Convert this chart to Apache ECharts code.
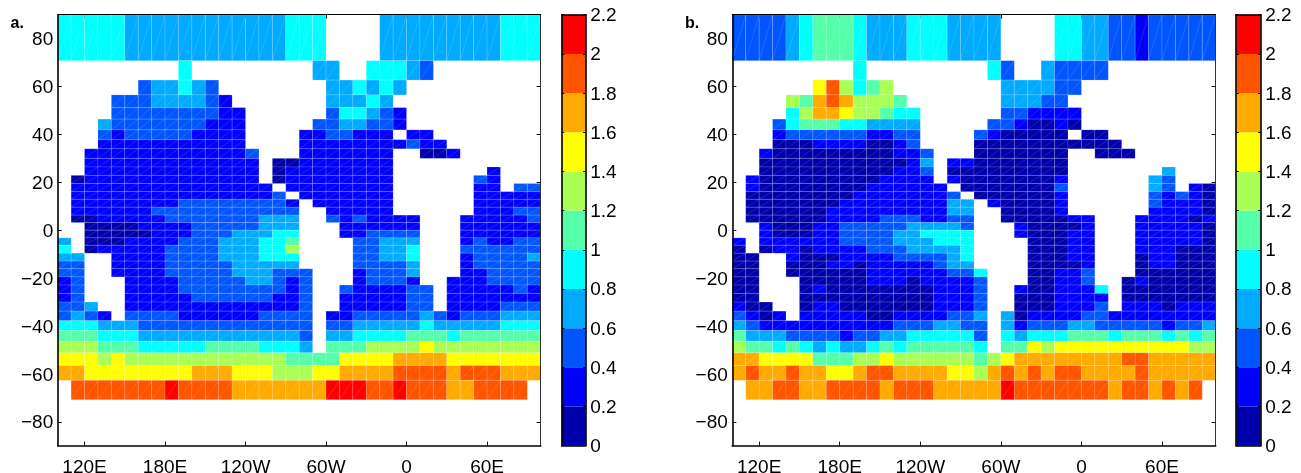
<!DOCTYPE html>
<html>
<head>
<meta charset="utf-8">
<style>html,body{margin:0;padding:0;background:#fff}#c{width:1301px;height:473px}</style>
<script src="https://cdn.jsdelivr.net/npm/echarts@6/dist/echarts.min.js"></script>
</head>
<body>
<div id="c"></div>
<script>
// Cell edges: 36 longitude columns of 10 degrees from 100E, 36 latitude rows top to bottom
const lonStart = 100;
const lonStep = 10;
const latEdgesNorth = [90, 70.8, 62.7, 56.5, 51.2, 46.4, 41.9, 37.8, 34, 30, 26.4, 22.9, 19.5, 16.1, 12.9, 9.6, 6.3, 3.2, 0];
const latEdgesSouth = [-3.2, -6.3, -9.6, -12.9, -16.1, -19.5, -22.9, -26.4, -30, -33.8, -37.8, -41.9, -46.4, -51.2, -56.5, -62.7, -70.8, -90];

// Colour classes: lower bound of each class, and its colour
const classEdges = [0, 0.2, 0.4, 0.6, 0.8, 1, 1.2, 1.4, 1.6, 1.8, 2, 2.2];
const classColors = ['#0000aa', '#0000ff', '#0055ff', '#00aaff', '#00ffff', '#55ffaa', '#aaff55', '#ffff00', '#ffaa00', '#ff5500', '#ff0000'];

// Ticks and labels
const lonTicks = [120, 180, 240, 300, 360, 420];
const lonLabels = ['120E', '180E', '120W', '60W', '0', '60E'];
const latTicks = [-80, -60, -40, -20, 0, 20, 40, 60, 80];
const latLabels = ['\u221280', '\u221260', '\u221240', '\u221220', '0', '20', '40', '60', '80'];
const barTicks = [0, 0.2, 0.4, 0.6, 0.8, 1, 1.2, 1.4, 1.6, 1.8, 2, 2.2];
const barLabels = ['0', '0.2', '0.4', '0.6', '0.8', '1', '1.2', '1.4', '1.6', '1.8', '2', '2.2'];

// Class read from each cell ('.' = no data, a = class 10), one string per latitude row
const panelA = [
"444443 333333 333334 44.... 333333 333444",
"...... ...4.. ...... .33..4 4432.. ......",
"...... 233432 ...... ..3343 43.... ......",
"....22 233332 1..... ..3334 3..... ......",
"....22 222222 11.... ..2443 21.... ......",
"...322 222221 11.... .22332 21.... ......",
"...212 222211 11.... 112211 1.11.. ......",
"...111 111111 11.... 111111 11211. ......",
"..1111 111111 112... 111111 1..001 ......",
"..1111 111111 111.00 111111 1..... ......",
"..1111 111111 111.01 111111 1..... ..1...",
".01111 111111 111.01 111111 1..... .21...",
".11111 111111 1111.1 111111 1..... .11.22",
".11111 111111 11112. 111111 1..... .11111",
".11111 111222 222221 .11111 1..... .11111",
".11111 122222 222222 ..1111 1..... .11122",
".00111 112222 222333 ..2121 111... 111112",
"..0000 111122 222333 ...111 111... 111111",
"..0000 011122 233344 ...112 222... 111111",
"3.0001 111222 333445 ....22 333... 121122",
"4.0111 112222 333446 ....22 334... 222222",
"33..11 112222 333444 ....22 334... 122223",
"22..11 112222 233333 ....22 223... 122222",
"22..11 112222 233322 2...12 223... 112222",
"12...1 111222 223321 2...12 221..1 112222",
"12...1 111222 222221 2..211 1122.1 111121",
"12...1 111122 222211 2..111 1122.1 111111",
"223..1 111111 111111 2..111 1122.1 111222",
"2321.2 222111 111222 2.1122 222321 222333",
"444333 222222 222222 2.2233 333433 333444",
"555444 333333 333333 2.3344 445554 555555",
"666555 444445 555444 3.5556 666766 666666",
"777676 666666 666665 555777 788887 777777",
"887777 777788 877766 677888 899998 999888",
".99999 99a999 988888 88aaa9 9a9998 89999.",
"...... ...... ...... ...... ...... ......"
];
const panelB = [
"222234 555433 344433 33.... 443322 122222",
"...... ...4.. ...... .42..3 2222.. ......",
"...... 796456 ...... ..3333 22.... ......",
"....65 898666 5..... ..3332 2..... ......",
"....46 887665 44.... ..2211 11.... ......",
"...245 554433 33.... .22100 10.... ......",
"...122 222211 22.... 210000 0.00.. ......",
"...000 111100 12.... 000000 00000. ......",
"..1000 000000 112... 000000 0..000 ......",
"..0000 000000 013.11 000000 0..... ......",
"..0000 000000 112.00 000000 0..... ..3...",
".10000 000001 111.10 000000 1..... .32...",
".10000 000011 1111.0 000000 2..... .32.10",
".00000 000111 11112. 000000 1..... .21210",
".00000 001111 111133 .10000 1..... .21110",
".00000 011111 111133 ..0000 1..... .11110",
".00000 011112 221122 ..0000 011... 111101",
"..1000 112222 233332 ...100 001... 111110",
"..1000 112222 334444 ...100 011... 111110",
"1.1111 112222 333444 ....00 011... 111110",
"0.0110 111122 233334 ....00 011... 111000",
"00..10 001111 222234 ....00 011... 011000",
"00..00 011011 111233 ....00 001... 011000",
"00..00 000011 111122 4...00 112... 000000",
"00...0 000011 101111 2...00 112..0 100000",
"00...0 100000 000111 2..100 1114.0 000000",
"00...0 000000 000111 2..000 1111.0 000000",
"100..0 110000 000111 2..000 1112.1 110111",
"2101.1 111100 111122 3.3011 112211 111111",
"321111 111111 222332 2.3122 233222 221223",
"533322 221223 344444 2.4344 455545 554545",
"655454 343345 455555 4.5576 777777 777766",
"887777 555667 666666 567888 888889 988888",
"898898 877899 888877 689898 998888 988888",
".88998 899998 999888 88a999 999989 98989.",
"...... ...... ...... ...... ...... ......"
];

const latEdges = latEdgesNorth.concat(latEdgesSouth);
const textColor = '#000';
const fontFamily = '"Liberation Sans", Arial, sans-serif';
const fontSize = 19;

function cells(rows) {
  const out = [];
  rows.forEach((row, r) => {
    row.replace(/ /g, '').split('').forEach((ch, c) => {
      if (ch === '.') return;
      const k = ch === 'a' ? 10 : Number(ch);
      out.push([lonStart + c * lonStep, lonStart + (c + 1) * lonStep, latEdges[r], latEdges[r + 1], k]);
    });
  });
  return out;
}
function barCells() {
  return classColors.map((_, k) => [0, 1, classEdges[k + 1], classEdges[k], k]);
}
function renderCell(params, api) {
  const tl = api.coord([api.value(0), api.value(2)]);
  const br = api.coord([api.value(1), api.value(3)]);
  return {
    type: 'group',
    children: [
      { type: 'rect', shape: { x: tl[0], y: tl[1], width: br[0] - tl[0], height: br[1] - tl[1] },
        style: { fill: classColors[api.value(4)], stroke: 'rgba(255,255,255,0.2)', lineWidth: 0.7 } },
      { type: 'line', shape: { x1: tl[0], y1: br[1], x2: br[0], y2: tl[1] },
        style: { stroke: 'rgba(255,255,255,0.22)', lineWidth: 0.6 } }
    ]
  };
}
function renderBar(params, api) {
  const tl = api.coord([api.value(0), api.value(2)]);
  const br = api.coord([api.value(1), api.value(3)]);
  return { type: 'rect', shape: { x: tl[0], y: tl[1], width: br[0] - tl[0], height: br[1] - tl[1] },
    style: { fill: classColors[api.value(4)] } };
}

const grid = [], xAxis = [], yAxis = [], series = [];
const line = (w, c) => ({ show: true, onZero: false, lineStyle: { color: c || '#000', width: w } });
const noLine = { show: false, onZero: false };
const tickOff = { show: false };
const labelOff = { show: false };
const split = { show: false };

function addMap(left, width, rows) {
  const g = grid.length;
  grid.push({ left, top: 14.7, width, height: 431, containLabel: false, outerBoundsMode: 'none' });
  const xBase = { type: 'value', gridIndex: g, min: lonStart, max: 460, splitLine: split };
  const yBase = { type: 'value', gridIndex: g, min: -90, max: 90, splitLine: split };
  const xi = xAxis.length, yi = yAxis.length;
  const lonTick = { show: true, inside: true, length: 4, customValues: lonTicks, lineStyle: { color: '#000', width: 1 } };
  const latTick = { show: true, inside: true, length: 4, customValues: latTicks, lineStyle: { color: '#000', width: 1 } };
  xAxis.push(
    { ...xBase, position: 'bottom', z: 5, axisLine: line(1.6), axisTick: lonTick,
      axisLabel: { show: true, customValues: lonTicks, margin: 12.5, color: textColor, fontFamily, fontSize,
        formatter: v => lonLabels[lonTicks.indexOf(v)] } },
    { ...xBase, position: 'top', z: 0, axisLine: noLine, axisTick: lonTick, axisLabel: labelOff },
    { ...xBase, position: 'top', z: 5, axisLine: line(1), axisTick: tickOff, axisLabel: labelOff }
  );
  yAxis.push(
    { ...yBase, position: 'left', z: 0, axisLine: noLine, axisTick: latTick,
      axisLabel: { show: true, customValues: latTicks, margin: 4.5, color: textColor, fontFamily, fontSize,
        verticalAlign: 'top', lineHeight: 3, formatter: v => latLabels[latTicks.indexOf(v)] } },
    { ...yBase, position: 'right', z: 0, axisLine: noLine, axisTick: latTick, axisLabel: labelOff },
    { ...yBase, position: 'left', z: 5, axisLine: line(1.6), axisTick: tickOff, axisLabel: labelOff },
    { ...yBase, position: 'right', z: 5, axisLine: line(1, '#333'), axisTick: tickOff, axisLabel: labelOff }
  );
  series.push({ type: 'custom', xAxisIndex: xi, yAxisIndex: yi, z: 2, silent: true, animation: false, clip: false,
    encode: { x: [0, 1], y: [2, 3] }, renderItem: renderCell, data: cells(rows) });
}
function addBar(left, width) {
  const g = grid.length;
  grid.push({ left, top: 14.7, width, height: 431, containLabel: false, outerBoundsMode: 'none' });
  const xBase = { type: 'value', gridIndex: g, min: 0, max: 1, splitLine: split, z: 5, axisTick: tickOff, axisLabel: labelOff };
  const yBase = { type: 'value', gridIndex: g, min: 0, max: 2.2, splitLine: split, z: 5 };
  const xi = xAxis.length, yi = yAxis.length;
  const tick = { show: true, inside: true, length: 2.5, customValues: barTicks, lineStyle: { color: '#000', width: 1 } };
  xAxis.push({ ...xBase, position: 'bottom', axisLine: line(1.6) }, { ...xBase, position: 'top', axisLine: line(1.6) });
  yAxis.push(
    { ...yBase, position: 'right', axisLine: line(1.6), axisTick: tick,
      axisLabel: { show: true, customValues: barTicks, margin: 4.5, color: textColor, fontFamily, fontSize,
        verticalAlign: 'top', lineHeight: 2.5, formatter: v => barLabels[barTicks.findIndex(t => Math.abs(t - v) < 1e-6)] } },
    { ...yBase, position: 'left', axisLine: line(1.6), axisTick: tick, axisLabel: labelOff }
  );
  series.push({ type: 'custom', xAxisIndex: xi, yAxisIndex: yi, z: 2, silent: true, animation: false,
    encode: { x: [0, 1], y: [2, 3] }, renderItem: renderBar, data: barCells() });
}

addMap(57.7, 483, panelA);
addBar(561.7, 24);
addMap(732.3, 483.4, panelB);
addBar(1236.2, 24.5);

const chart = echarts.init(document.getElementById('c'), null, { renderer: 'canvas', width: 1301, height: 473 });
chart.setOption({
  animation: false,
  backgroundColor: '#fff',
  title: [
    { text: 'a.', left: 10.5, top: 16, padding: 0, textStyle: { color: '#000', fontFamily, fontSize: 16, fontWeight: 'bold' } },
    { text: 'b.', left: 685, top: 16, padding: 0, textStyle: { color: '#000', fontFamily, fontSize: 16, fontWeight: 'bold' } }
  ],
  grid, xAxis, yAxis, series
});
</script>
</body>
</html>
